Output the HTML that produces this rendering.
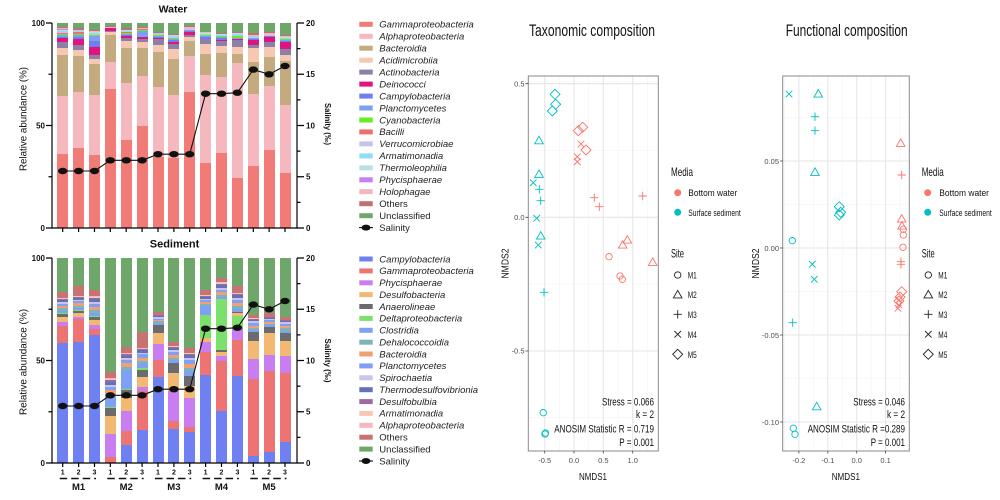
<!DOCTYPE html>
<html><head><meta charset="utf-8">
<style>
html,body{margin:0;padding:0;background:#fff;}
#root{position:relative;width:1000px;height:500px;overflow:hidden;background:#fff;font-family:"Liberation Sans",Arial,sans-serif;}
.bar{position:absolute;width:11px;height:205px;display:flex;flex-direction:column-reverse;}
.bar i{display:block;flex:none;}
.bar i.c17{flex:1 1 0;}
.wt{top:23px}.sd{top:258px}
.w .c1{background:#f07b77}.w .c2{background:#f4b8be}.w .c3{background:#c3ab7f}.w .c4{background:#f6c8b2}
.w .c5{background:#8d7fa6}.w .c6{background:#e0137f}.w .c7{background:#6f7ff0}.w .c8{background:#7ea0f4}
.w .c9{background:#66ee22}.w .c10{background:#ef6f6f}.w .c11{background:#cbc0e6}.w .c12{background:#8fdcf8}
.w .c13{background:#b8e0e4}.w .c14{background:#c77ef0}.w .c15{background:#f2b8c0}.w .c16{background:#c07070}
.s .c1{background:#6f80f2}.s .c2{background:#ee7373}.s .c3{background:#c87ef0}.s .c4{background:#f3b972}
.s .c5{background:#6b6b6b}.s .c6{background:#7ee06c}.s .c7{background:#7ea0f5}.s .c8{background:#7db4b8}
.s .c9{background:#f1a071}.s .c10{background:#80a0f6}.s .c11{background:#cbc3e8}.s .c12{background:#6470b8}
.s .c13{background:#9c6ba2}.s .c14{background:#f5c8b6}.s .c15{background:#f3b8c0}.s .c16{background:#c87272}
.c17{background:#6fa76a}
svg{position:absolute;left:0;top:0}
</style></head><body><div id="root">

<!-- Water bars -->
<div class="bar w wt" style="left:57.2px"><i class="c1" style="height:36%"></i><i class="c2" style="height:28.4%"></i><i class="c3" style="height:20%"></i><i class="c4" style="height:3.6%"></i><i class="c5" style="height:2.6%"></i><i class="c6" style="height:1.9%"></i><i class="c7" style="height:.8%"></i><i class="c8" style="height:1%"></i><i class="c9" style="height:.6%"></i><i class="c10" style="height:.3%"></i><i class="c11" style="height:.5%"></i><i class="c12" style="height:.6%"></i><i class="c13" style="height:.4%"></i><i class="c14" style="height:.3%"></i><i class="c15" style="height:.4%"></i><i class="c16" style="height:.6%"></i><i class="c17"></i></div>
<div class="bar w wt" style="left:73.1px"><i class="c1" style="height:39.2%"></i><i class="c2" style="height:27.1%"></i><i class="c3" style="height:17.7%"></i><i class="c4" style="height:3%"></i><i class="c5" style="height:2.3%"></i><i class="c6" style="height:2.9%"></i><i class="c7" style="height:1.2%"></i><i class="c8" style="height:.8%"></i><i class="c9" style="height:.4%"></i><i class="c10" style="height:1.2%"></i><i class="c11" style="height:.3%"></i><i class="c12" style="height:.3%"></i><i class="c16" style="height:1%"></i><i class="c17"></i></div>
<div class="bar w wt" style="left:89px"><i class="c1" style="height:35.4%"></i><i class="c2" style="height:29.5%"></i><i class="c3" style="height:15%"></i><i class="c4" style="height:2.5%"></i><i class="c5" style="height:2.2%"></i><i class="c6" style="height:3.9%"></i><i class="c7" style="height:2.5%"></i><i class="c8" style="height:2.5%"></i><i class="c9" style="height:.8%"></i><i class="c11" style="height:.3%"></i><i class="c12" style="height:.5%"></i><i class="c13" style="height:.5%"></i><i class="c15" style="height:.5%"></i><i class="c16" style="height:.7%"></i><i class="c17"></i></div>
<div class="bar w wt" style="left:104.8px"><i class="c1" style="height:67.8%"></i><i class="c2" style="height:13%"></i><i class="c3" style="height:13.5%"></i><i class="c4" style="height:1.2%"></i><i class="c5" style="height:.8%"></i><i class="c6" style="height:1.3%"></i><i class="c15" style="height:.3%"></i><i class="c16" style="height:.5%"></i><i class="c17"></i></div>
<div class="bar w wt" style="left:120.7px"><i class="c1" style="height:43.1%"></i><i class="c2" style="height:27.8%"></i><i class="c3" style="height:17.1%"></i><i class="c4" style="height:3.1%"></i><i class="c5" style="height:1.5%"></i><i class="c6" style="height:1.2%"></i><i class="c7" style="height:.5%"></i><i class="c8" style="height:.5%"></i><i class="c9" style="height:.5%"></i><i class="c10" style="height:.5%"></i><i class="c12" style="height:.5%"></i><i class="c13" style="height:.4%"></i><i class="c16" style="height:.8%"></i><i class="c17"></i></div>
<div class="bar w wt" style="left:136.6px"><i class="c1" style="height:49.6%"></i><i class="c2" style="height:24.7%"></i><i class="c3" style="height:13.4%"></i><i class="c4" style="height:2.9%"></i><i class="c5" style="height:1.6%"></i><i class="c6" style="height:.8%"></i><i class="c7" style="height:.3%"></i><i class="c8" style="height:3%"></i><i class="c9" style="height:.3%"></i><i class="c10" style="height:.5%"></i><i class="c15" style="height:.5%"></i><i class="c16" style="height:.5%"></i><i class="c17"></i></div>
<div class="bar w wt" style="left:152.5px"><i class="c1" style="height:34.5%"></i><i class="c2" style="height:34.5%"></i><i class="c3" style="height:17%"></i><i class="c4" style="height:3.3%"></i><i class="c5" style="height:3%"></i><i class="c6" style="height:.5%"></i><i class="c7" style="height:.3%"></i><i class="c8" style="height:.5%"></i><i class="c9" style="height:.6%"></i><i class="c11" style="height:.3%"></i><i class="c12" style="height:.5%"></i><i class="c13" style="height:.4%"></i><i class="c16" style="height:.3%"></i><i class="c17"></i></div>
<div class="bar w wt" style="left:168.4px"><i class="c1" style="height:34%"></i><i class="c2" style="height:30.7%"></i><i class="c3" style="height:17.9%"></i><i class="c4" style="height:4.5%"></i><i class="c5" style="height:2.7%"></i><i class="c6" style="height:1.2%"></i><i class="c7" style="height:.5%"></i><i class="c8" style="height:.6%"></i><i class="c9" style="height:.6%"></i><i class="c11" style="height:.3%"></i><i class="c12" style="height:.6%"></i><i class="c13" style="height:.5%"></i><i class="c15" style="height:.3%"></i><i class="c16" style="height:.5%"></i><i class="c17"></i></div>
<div class="bar w wt" style="left:184.2px"><i class="c1" style="height:66.3%"></i><i class="c2" style="height:17.7%"></i><i class="c3" style="height:7.3%"></i><i class="c4" style="height:2%"></i><i class="c5" style="height:.7%"></i><i class="c6" style="height:1.7%"></i><i class="c7" style="height:.5%"></i><i class="c8" style="height:.5%"></i><i class="c11" style="height:.5%"></i><i class="c15" style="height:.8%"></i><i class="c16" style="height:.6%"></i><i class="c17"></i></div>
<div class="bar w wt" style="left:200.1px"><i class="c1" style="height:31.5%"></i><i class="c2" style="height:43%"></i><i class="c3" style="height:10.5%"></i><i class="c4" style="height:4.7%"></i><i class="c5" style="height:2.3%"></i><i class="c6" style="height:.3%"></i><i class="c7" style="height:.7%"></i><i class="c8" style="height:.7%"></i><i class="c9" style="height:.5%"></i><i class="c12" style="height:.7%"></i><i class="c13" style="height:.3%"></i><i class="c15" style="height:.3%"></i><i class="c16" style="height:.3%"></i><i class="c17"></i></div>
<div class="bar w wt" style="left:216px"><i class="c1" style="height:36.6%"></i><i class="c2" style="height:37.1%"></i><i class="c3" style="height:11.6%"></i><i class="c4" style="height:3.4%"></i><i class="c5" style="height:2.4%"></i><i class="c6" style="height:.8%"></i><i class="c7" style="height:.6%"></i><i class="c8" style="height:.5%"></i><i class="c9" style="height:.5%"></i><i class="c12" style="height:.6%"></i><i class="c13" style="height:.5%"></i><i class="c16" style="height:.5%"></i><i class="c17"></i></div>
<div class="bar w wt" style="left:231.9px"><i class="c1" style="height:24.4%"></i><i class="c2" style="height:56.1%"></i><i class="c3" style="height:4.6%"></i><i class="c4" style="height:3.4%"></i><i class="c5" style="height:3.2%"></i><i class="c6" style="height:.3%"></i><i class="c7" style="height:.4%"></i><i class="c8" style="height:.5%"></i><i class="c9" style="height:1%"></i><i class="c12" style="height:.8%"></i><i class="c13" style="height:.5%"></i><i class="c16" style="height:.3%"></i><i class="c17"></i></div>
<div class="bar w wt" style="left:247.8px"><i class="c1" style="height:30.2%"></i><i class="c2" style="height:35.3%"></i><i class="c3" style="height:15.5%"></i><i class="c4" style="height:7%"></i><i class="c5" style="height:1.2%"></i><i class="c6" style="height:2.5%"></i><i class="c7" style="height:.5%"></i><i class="c8" style="height:.5%"></i><i class="c11" style="height:.5%"></i><i class="c12" style="height:.3%"></i><i class="c15" style="height:.8%"></i><i class="c16" style="height:.8%"></i><i class="c17"></i></div>
<div class="bar w wt" style="left:263.6px"><i class="c1" style="height:37.9%"></i><i class="c2" style="height:31.2%"></i><i class="c3" style="height:14.3%"></i><i class="c4" style="height:5%"></i><i class="c5" style="height:2.4%"></i><i class="c6" style="height:2.4%"></i><i class="c7" style="height:.3%"></i><i class="c8" style="height:.3%"></i><i class="c11" style="height:.3%"></i><i class="c15" style="height:.9%"></i><i class="c16" style="height:.6%"></i><i class="c17"></i></div>
<div class="bar w wt" style="left:279.5px"><i class="c1" style="height:27%"></i><i class="c2" style="height:32.9%"></i><i class="c3" style="height:21.6%"></i><i class="c4" style="height:3%"></i><i class="c5" style="height:3%"></i><i class="c6" style="height:3.1%"></i><i class="c7" style="height:.5%"></i><i class="c8" style="height:.5%"></i><i class="c9" style="height:.6%"></i><i class="c12" style="height:.5%"></i><i class="c13" style="height:.4%"></i><i class="c15" style="height:.5%"></i><i class="c16" style="height:.6%"></i><i class="c17"></i></div>

<!-- Sediment bars -->
<div class="bar s sd" style="left:57.2px"><i class="c1" style="height:58.5%"></i><i class="c2" style="height:8.2%"></i><i class="c3" style="height:2.1%"></i><i class="c4" style="height:2.2%"></i><i class="c5" style="height:1.8%"></i><i class="c6" style="height:.4%"></i><i class="c7" style="height:1.2%"></i><i class="c8" style="height:1%"></i><i class="c9" style="height:1.3%"></i><i class="c10" style="height:1%"></i><i class="c11" style="height:.8%"></i><i class="c12" style="height:1%"></i><i class="c13" style="height:.5%"></i><i class="c14" style="height:.3%"></i><i class="c15" style="height:.2%"></i><i class="c16" style="height:3.2%"></i><i class="c17"></i></div>
<div class="bar s sd" style="left:73.1px"><i class="c1" style="height:59%"></i><i class="c2" style="height:11.2%"></i><i class="c3" style="height:.8%"></i><i class="c4" style="height:2.2%"></i><i class="c5" style="height:1.1%"></i><i class="c6" style="height:.3%"></i><i class="c7" style="height:1.1%"></i><i class="c8" style="height:1%"></i><i class="c9" style="height:1.2%"></i><i class="c10" style="height:1%"></i><i class="c11" style="height:.7%"></i><i class="c12" style="height:.9%"></i><i class="c13" style="height:.4%"></i><i class="c14" style="height:.4%"></i><i class="c16" style="height:5.2%"></i><i class="c17"></i></div>
<div class="bar s sd" style="left:89px"><i class="c1" style="height:62.3%"></i><i class="c2" style="height:3.1%"></i><i class="c3" style="height:1.8%"></i><i class="c4" style="height:2.7%"></i><i class="c5" style="height:1.3%"></i><i class="c6" style="height:.5%"></i><i class="c7" style="height:1.6%"></i><i class="c8" style="height:1.3%"></i><i class="c9" style="height:1.7%"></i><i class="c10" style="height:1.3%"></i><i class="c11" style="height:1%"></i><i class="c12" style="height:1.4%"></i><i class="c13" style="height:.7%"></i><i class="c14" style="height:.4%"></i><i class="c15" style="height:.2%"></i><i class="c16" style="height:3.3%"></i><i class="c17"></i></div>
<div class="bar s sd" style="left:104.8px"><i class="c2" style="height:2.8%"></i><i class="c3" style="height:11.3%"></i><i class="c4" style="height:8.7%"></i><i class="c5" style="height:4%"></i><i class="c6" style="height:.5%"></i><i class="c7" style="height:4.9%"></i><i class="c8" style="height:1.5%"></i><i class="c9" style="height:1.8%"></i><i class="c10" style="height:1.5%"></i><i class="c11" style="height:1.2%"></i><i class="c12" style="height:1.5%"></i><i class="c13" style="height:.8%"></i><i class="c14" style="height:.6%"></i><i class="c15" style="height:.4%"></i><i class="c16" style="height:3.2%"></i><i class="c17"></i></div>
<div class="bar s sd" style="left:120.7px"><i class="c1" style="height:8.6%"></i><i class="c2" style="height:7.2%"></i><i class="c3" style="height:9.7%"></i><i class="c4" style="height:6.2%"></i><i class="c5" style="height:4.1%"></i><i class="c6" style="height:.5%"></i><i class="c7" style="height:9.2%"></i><i class="c8" style="height:1.6%"></i><i class="c9" style="height:1.6%"></i><i class="c10" style="height:1.4%"></i><i class="c11" style="height:1%"></i><i class="c12" style="height:1.3%"></i><i class="c13" style="height:.6%"></i><i class="c14" style="height:.4%"></i><i class="c15" style="height:.3%"></i><i class="c16" style="height:3.2%"></i><i class="c17"></i></div>
<div class="bar s sd" style="left:136.6px"><i class="c1" style="height:16.3%"></i><i class="c2" style="height:19%"></i><i class="c3" style="height:1.6%"></i><i class="c4" style="height:4.9%"></i><i class="c5" style="height:3.7%"></i><i class="c6" style="height:.8%"></i><i class="c7" style="height:2.5%"></i><i class="c8" style="height:1.2%"></i><i class="c9" style="height:1.5%"></i><i class="c10" style="height:1.5%"></i><i class="c11" style="height:.9%"></i><i class="c12" style="height:1.2%"></i><i class="c13" style="height:.5%"></i><i class="c14" style="height:.3%"></i><i class="c15" style="height:.2%"></i><i class="c16" style="height:7.8%"></i><i class="c17"></i></div>
<div class="bar s sd" style="left:152.5px"><i class="c1" style="height:41.8%"></i><i class="c2" style="height:8.4%"></i><i class="c3" style="height:7.8%"></i><i class="c4" style="height:5.4%"></i><i class="c5" style="height:4.1%"></i><i class="c7" style="height:.8%"></i><i class="c8" style="height:.8%"></i><i class="c9" style="height:.8%"></i><i class="c10" style="height:.6%"></i><i class="c11" style="height:.6%"></i><i class="c12" style="height:.6%"></i><i class="c13" style="height:.4%"></i><i class="c14" style="height:.3%"></i><i class="c16" style="height:1.3%"></i><i class="c17"></i></div>
<div class="bar s sd" style="left:168.4px"><i class="c1" style="height:16.7%"></i><i class="c2" style="height:4%"></i><i class="c3" style="height:14.3%"></i><i class="c4" style="height:8.9%"></i><i class="c5" style="height:4.9%"></i><i class="c7" style="height:1.3%"></i><i class="c8" style="height:1.3%"></i><i class="c9" style="height:1.4%"></i><i class="c10" style="height:1.2%"></i><i class="c11" style="height:1%"></i><i class="c12" style="height:1%"></i><i class="c13" style="height:.5%"></i><i class="c14" style="height:.4%"></i><i class="c16" style="height:2.4%"></i><i class="c17"></i></div>
<div class="bar s sd" style="left:184.2px"><i class="c1" style="height:15.1%"></i><i class="c2" style="height:2.3%"></i><i class="c3" style="height:14.3%"></i><i class="c4" style="height:5.7%"></i><i class="c5" style="height:4.9%"></i><i class="c7" style="height:2.5%"></i><i class="c8" style="height:1.8%"></i><i class="c9" style="height:1.8%"></i><i class="c10" style="height:1.8%"></i><i class="c11" style="height:1.2%"></i><i class="c12" style="height:1.2%"></i><i class="c13" style="height:.6%"></i><i class="c14" style="height:.5%"></i><i class="c16" style="height:2.4%"></i><i class="c17"></i></div>
<div class="bar s sd" style="left:200.1px"><i class="c1" style="height:42.8%"></i><i class="c2" style="height:11.3%"></i><i class="c3" style="height:4.9%"></i><i class="c4" style="height:2%"></i><i class="c6" style="height:11.4%"></i><i class="c7" style="height:4%"></i><i class="c8" style="height:1%"></i><i class="c9" style="height:1.2%"></i><i class="c10" style="height:.8%"></i><i class="c11" style="height:.8%"></i><i class="c12" style="height:.8%"></i><i class="c13" style="height:.5%"></i><i class="c14" style="height:.4%"></i><i class="c15" style="height:.2%"></i><i class="c16" style="height:2.5%"></i><i class="c17"></i></div>
<div class="bar s sd" style="left:216px"><i class="c1" style="height:25.5%"></i><i class="c2" style="height:24.1%"></i><i class="c3" style="height:2.4%"></i><i class="c4" style="height:2.1%"></i><i class="c5" style="height:1.2%"></i><i class="c6" style="height:24.9%"></i><i class="c7" style="height:1%"></i><i class="c8" style="height:1%"></i><i class="c9" style="height:1.2%"></i><i class="c10" style="height:1%"></i><i class="c11" style="height:1%"></i><i class="c12" style="height:1.5%"></i><i class="c13" style="height:.7%"></i><i class="c14" style="height:.5%"></i><i class="c15" style="height:.5%"></i><i class="c16" style="height:1.6%"></i><i class="c17"></i></div>
<div class="bar s sd" style="left:231.9px"><i class="c1" style="height:42.3%"></i><i class="c2" style="height:17.9%"></i><i class="c3" style="height:5.7%"></i><i class="c6" style="height:5.6%"></i><i class="c4" style="height:1.5%"></i><i class="c5" style="height:.8%"></i><i class="c7" style="height:1.5%"></i><i class="c8" style="height:1.2%"></i><i class="c9" style="height:1.8%"></i><i class="c10" style="height:1.2%"></i><i class="c11" style="height:1%"></i><i class="c12" style="height:1.5%"></i><i class="c13" style="height:.6%"></i><i class="c15" style="height:.3%"></i><i class="c16" style="height:3.3%"></i><i class="c17"></i></div>
<div class="bar s sd" style="left:247.8px"><i class="c1" style="height:3.3%"></i><i class="c2" style="height:37.7%"></i><i class="c3" style="height:9.7%"></i><i class="c4" style="height:8.6%"></i><i class="c5" style="height:4.4%"></i><i class="c7" style="height:1.2%"></i><i class="c8" style="height:1.2%"></i><i class="c9" style="height:1%"></i><i class="c10" style="height:1.2%"></i><i class="c11" style="height:.8%"></i><i class="c12" style="height:.8%"></i><i class="c13" style="height:.4%"></i><i class="c14" style="height:.4%"></i><i class="c16" style="height:1.7%"></i><i class="c17"></i></div>
<div class="bar s sd" style="left:263.6px"><i class="c1" style="height:5.4%"></i><i class="c2" style="height:39.3%"></i><i class="c3" style="height:8.1%"></i><i class="c4" style="height:10.6%"></i><i class="c5" style="height:2.8%"></i><i class="c7" style="height:.9%"></i><i class="c8" style="height:.9%"></i><i class="c9" style="height:.8%"></i><i class="c10" style="height:.9%"></i><i class="c11" style="height:.6%"></i><i class="c12" style="height:.6%"></i><i class="c13" style="height:.3%"></i><i class="c14" style="height:.3%"></i><i class="c16" style="height:1.7%"></i><i class="c17"></i></div>
<div class="bar s sd" style="left:279.5px"><i class="c1" style="height:10.1%"></i><i class="c2" style="height:33.8%"></i><i class="c3" style="height:8.1%"></i><i class="c4" style="height:7.7%"></i><i class="c5" style="height:3.7%"></i><i class="c7" style="height:1.2%"></i><i class="c8" style="height:1.2%"></i><i class="c9" style="height:1%"></i><i class="c10" style="height:1%"></i><i class="c11" style="height:.8%"></i><i class="c12" style="height:.6%"></i><i class="c13" style="height:.4%"></i><i class="c14" style="height:.3%"></i><i class="c16" style="height:1.6%"></i><i class="c17"></i></div>

<svg width="1000" height="500" viewBox="0 0 1000 500" font-family="Liberation Sans, Arial, sans-serif">
<defs>
<path id="tri" d="M0,-4.4L4.3,3.1L-4.3,3.1Z"/>
<path id="pl" d="M-4.2,0H4.2M0,-4.2V4.2"/>
<path id="xx" d="M-3.3,-3.3L3.3,3.3M-3.3,3.3L3.3,-3.3"/>
<path id="dm" d="M0,-5L5,0L0,5L-5,0Z"/>
<circle id="ci" r="3.2"/>
</defs>

<!-- ===== LEFT: Water ===== -->
<text x="173" y="12.5" font-size="10.5" font-weight="bold" text-anchor="middle" fill="#111">Water</text>
<g stroke="#000" stroke-width="1.2" fill="none">
<path d="M52,23V228H297V23"/>
<path d="M46,23H52M46,125.5H52M46,228H52M48.5,74.25H52M48.5,176.75H52"/>
<path d="M297,23H304M297,74.25H304M297,125.5H304M297,176.75H304M297,228H304M297,48.6H300.5M297,99.9H300.5M297,151.1H300.5M297,202.4H300.5"/>
<path d="M62.7,228V232M78.6,228V232M94.5,228V232M110.3,228V232M126.2,228V232M142.1,228V232M158,228V232M173.9,228V232M189.7,228V232M205.6,228V232M221.5,228V232M237.4,228V232M253.3,228V232M269.1,228V232M285,228V232"/>
</g>
<g font-size="8" font-weight="bold" fill="#111">
<text x="45" y="26" text-anchor="end">100</text>
<text x="45" y="128.5" text-anchor="end">50</text>
<text x="45" y="231" text-anchor="end">0</text>
<text x="306" y="26">20</text>
<text x="306" y="77.2">15</text>
<text x="306" y="128.5">10</text>
<text x="306" y="179.7">5</text>
<text x="306" y="231">0</text>
</g>
<text transform="translate(26.5,119) rotate(-90)" x="-52" y="0" font-size="9.75" textLength="104" lengthAdjust="spacingAndGlyphs" fill="#111">Relative abundance (%)</text>
<text transform="translate(325,124) rotate(90)" x="-21" y="0" font-size="8.5" font-weight="bold" textLength="42" lengthAdjust="spacingAndGlyphs" fill="#111">Salinity (‰)</text>
<polyline fill="none" stroke="#111" stroke-width="1.1" points="62.7,171 78.6,171 94.5,171 110.3,160.3 126.2,160.3 142.1,160.3 158,154.2 173.9,154.2 189.7,154.2 205.6,93.7 221.5,93.7 237.4,92.7 253.3,69.6 269.1,74.3 285,66"/>
<g fill="#111">
<ellipse cx="62.7" cy="171" rx="4.7" ry="3.2"/><ellipse cx="78.6" cy="171" rx="4.7" ry="3.2"/><ellipse cx="94.5" cy="171" rx="4.7" ry="3.2"/>
<ellipse cx="110.3" cy="160.3" rx="4.7" ry="3.2"/><ellipse cx="126.2" cy="160.3" rx="4.7" ry="3.2"/><ellipse cx="142.1" cy="160.3" rx="4.7" ry="3.2"/>
<ellipse cx="158" cy="154.2" rx="4.7" ry="3.2"/><ellipse cx="173.9" cy="154.2" rx="4.7" ry="3.2"/><ellipse cx="189.7" cy="154.2" rx="4.7" ry="3.2"/>
<ellipse cx="205.6" cy="93.7" rx="4.7" ry="3.2"/><ellipse cx="221.5" cy="93.7" rx="4.7" ry="3.2"/><ellipse cx="237.4" cy="92.7" rx="4.7" ry="3.2"/>
<ellipse cx="253.3" cy="69.6" rx="4.7" ry="3.2"/><ellipse cx="269.1" cy="74.3" rx="4.7" ry="3.2"/><ellipse cx="285" cy="66" rx="4.7" ry="3.2"/>
</g>

<!-- Water legend -->
<g>
<rect x="359.3" y="21.8" width="13.4" height="5" fill="#f07b77"/>
<rect x="359.3" y="33.8" width="13.4" height="5" fill="#f4b8be"/>
<rect x="359.3" y="45.7" width="13.4" height="5" fill="#c3ab7f"/>
<rect x="359.3" y="57.7" width="13.4" height="5" fill="#f6c8b2"/>
<rect x="359.3" y="69.6" width="13.4" height="5" fill="#8d7fa6"/>
<rect x="359.3" y="81.6" width="13.4" height="5" fill="#e0137f"/>
<rect x="359.3" y="93.6" width="13.4" height="5" fill="#6f7ff0"/>
<rect x="359.3" y="105.5" width="13.4" height="5" fill="#7ea0f4"/>
<rect x="359.3" y="117.5" width="13.4" height="5" fill="#66ee22"/>
<rect x="359.3" y="129.4" width="13.4" height="5" fill="#ef6f6f"/>
<rect x="359.3" y="141.4" width="13.4" height="5" fill="#cbc0e6"/>
<rect x="359.3" y="153.4" width="13.4" height="5" fill="#8fdcf8"/>
<rect x="359.3" y="165.3" width="13.4" height="5" fill="#b8e0e4"/>
<rect x="359.3" y="177.3" width="13.4" height="5" fill="#c77ef0"/>
<rect x="359.3" y="189.2" width="13.4" height="5" fill="#f2b8c0"/>
<rect x="359.3" y="201.2" width="13.4" height="5" fill="#c07070"/>
<rect x="359.3" y="213.2" width="13.4" height="5" fill="#6fa76a"/>
<line x1="359" y1="227.6" x2="373" y2="227.6" stroke="#111" stroke-width="1.1"/>
<ellipse cx="366" cy="227.6" rx="4.5" ry="3" fill="#111"/>
</g>
<g font-size="9.5" fill="#222" font-style="italic">
<text x="379.3" y="27.6">Gammaproteobacteria</text>
<text x="379.3" y="39.6">Alphaproteobacteria</text>
<text x="379.3" y="51.5">Bacteroidia</text>
<text x="379.3" y="63.5">Acidimicrobiia</text>
<text x="379.3" y="75.4">Actinobacteria</text>
<text x="379.3" y="87.4">Deinococci</text>
<text x="379.3" y="99.4">Campylobacteria</text>
<text x="379.3" y="111.3">Planctomycetes</text>
<text x="379.3" y="123.3">Cyanobacteria</text>
<text x="379.3" y="135.2">Bacilli</text>
<text x="379.3" y="147.2">Verrucomicrobiae</text>
<text x="379.3" y="159.2">Armatimonadia</text>
<text x="379.3" y="171.1">Thermoleophilia</text>
<text x="379.3" y="183.1">Phycisphaerae</text>
<text x="379.3" y="195">Holophagae</text>
<text x="379.3" y="207" font-style="normal">Others</text>
<text x="379.3" y="219" font-style="normal">Unclassified</text>
<text x="379.3" y="230.9" font-style="normal">Salinity</text>
</g>

<!-- ===== LEFT: Sediment ===== -->
<text x="174.5" y="247.5" font-size="11" font-weight="bold" text-anchor="middle" fill="#111">Sediment</text>
<g stroke="#000" stroke-width="1.2" fill="none">
<path d="M52,258V463H297V258"/>
<path d="M46,258H52M46,360.5H52M46,463H52M48.5,309.25H52M48.5,411.75H52"/>
<path d="M297,258H304M297,309.25H304M297,360.5H304M297,411.75H304M297,463H304M297,283.6H300.5M297,334.9H300.5M297,386.1H300.5M297,437.4H300.5"/>
<path d="M62.7,463V467M78.6,463V467M94.5,463V467M110.3,463V467M126.2,463V467M142.1,463V467M158,463V467M173.9,463V467M189.7,463V467M205.6,463V467M221.5,463V467M237.4,463V467M253.3,463V467M269.1,463V467M285,463V467"/>
</g>
<g font-size="8" font-weight="bold" fill="#111">
<text x="45" y="261" text-anchor="end">100</text>
<text x="45" y="363.5" text-anchor="end">50</text>
<text x="45" y="466" text-anchor="end">0</text>
<text x="306" y="261">20</text>
<text x="306" y="312.2">15</text>
<text x="306" y="363.5">10</text>
<text x="306" y="414.7">5</text>
<text x="306" y="466">0</text>
</g>
<text transform="translate(26.5,362) rotate(-90)" x="-53" y="0" font-size="9.75" textLength="106" lengthAdjust="spacingAndGlyphs" fill="#111">Relative abundance (%)</text>
<text transform="translate(325,360.5) rotate(90)" x="-22" y="0" font-size="8.5" font-weight="bold" textLength="44" lengthAdjust="spacingAndGlyphs" fill="#111">Salinity (‰)</text>
<g font-size="7" font-weight="bold" fill="#111" text-anchor="middle">
<text x="62.7" y="474.5">1</text><text x="78.6" y="474.5">2</text><text x="94.5" y="474.5">3</text>
<text x="110.3" y="474.5">1</text><text x="126.2" y="474.5">2</text><text x="142.1" y="474.5">3</text>
<text x="158" y="474.5">1</text><text x="173.9" y="474.5">2</text><text x="189.7" y="474.5">3</text>
<text x="205.6" y="474.5">1</text><text x="221.5" y="474.5">2</text><text x="237.4" y="474.5">3</text>
<text x="253.3" y="474.5">1</text><text x="269.1" y="474.5">2</text><text x="285" y="474.5">3</text>
</g>
<g stroke="#111" stroke-width="1.4" stroke-dasharray="7.5,4">
<line x1="59.7" y1="478.5" x2="96" y2="478.5"/>
<line x1="107.3" y1="478.5" x2="143.6" y2="478.5"/>
<line x1="155" y1="478.5" x2="191.2" y2="478.5"/>
<line x1="202.6" y1="478.5" x2="238.9" y2="478.5"/>
<line x1="250.3" y1="478.5" x2="286.5" y2="478.5"/>
</g>
<g font-size="9.5" font-weight="bold" fill="#111" text-anchor="middle">
<text x="78.6" y="490">M1</text><text x="126.2" y="490">M2</text><text x="173.9" y="490">M3</text><text x="221.5" y="490">M4</text><text x="269.1" y="490">M5</text>
</g>
<polyline fill="none" stroke="#111" stroke-width="1.1" points="62.7,406 78.6,406 94.5,406 110.3,395.3 126.2,395.3 142.1,395.3 158,389.2 173.9,389.2 189.7,389.2 205.6,328.7 221.5,328.7 237.4,327.7 253.3,304.6 269.1,309.3 285,301"/>
<g fill="#111">
<ellipse cx="62.7" cy="406" rx="4.7" ry="3.2"/><ellipse cx="78.6" cy="406" rx="4.7" ry="3.2"/><ellipse cx="94.5" cy="406" rx="4.7" ry="3.2"/>
<ellipse cx="110.3" cy="395.3" rx="4.7" ry="3.2"/><ellipse cx="126.2" cy="395.3" rx="4.7" ry="3.2"/><ellipse cx="142.1" cy="395.3" rx="4.7" ry="3.2"/>
<ellipse cx="158" cy="389.2" rx="4.7" ry="3.2"/><ellipse cx="173.9" cy="389.2" rx="4.7" ry="3.2"/><ellipse cx="189.7" cy="389.2" rx="4.7" ry="3.2"/>
<ellipse cx="205.6" cy="328.7" rx="4.7" ry="3.2"/><ellipse cx="221.5" cy="328.7" rx="4.7" ry="3.2"/><ellipse cx="237.4" cy="327.7" rx="4.7" ry="3.2"/>
<ellipse cx="253.3" cy="304.6" rx="4.7" ry="3.2"/><ellipse cx="269.1" cy="309.3" rx="4.7" ry="3.2"/><ellipse cx="285" cy="301" rx="4.7" ry="3.2"/>
</g>

<!-- Sediment legend -->
<g>
<rect x="359.3" y="256.5" width="13.4" height="5" fill="#6f80f2"/>
<rect x="359.3" y="268.4" width="13.4" height="5" fill="#ee7373"/>
<rect x="359.3" y="280.3" width="13.4" height="5" fill="#c87ef0"/>
<rect x="359.3" y="292.1" width="13.4" height="5" fill="#f3b972"/>
<rect x="359.3" y="304" width="13.4" height="5" fill="#6b6b6b"/>
<rect x="359.3" y="315.9" width="13.4" height="5" fill="#7ee06c"/>
<rect x="359.3" y="327.8" width="13.4" height="5" fill="#7ea0f5"/>
<rect x="359.3" y="339.7" width="13.4" height="5" fill="#7db4b8"/>
<rect x="359.3" y="351.5" width="13.4" height="5" fill="#f1a071"/>
<rect x="359.3" y="363.4" width="13.4" height="5" fill="#80a0f6"/>
<rect x="359.3" y="375.3" width="13.4" height="5" fill="#cbc3e8"/>
<rect x="359.3" y="387.2" width="13.4" height="5" fill="#6470b8"/>
<rect x="359.3" y="399.1" width="13.4" height="5" fill="#9c6ba2"/>
<rect x="359.3" y="410.9" width="13.4" height="5" fill="#f5c8b6"/>
<rect x="359.3" y="422.8" width="13.4" height="5" fill="#f3b8c0"/>
<rect x="359.3" y="434.7" width="13.4" height="5" fill="#c87272"/>
<rect x="359.3" y="446.6" width="13.4" height="5" fill="#6fa76a"/>
<line x1="359" y1="461" x2="373" y2="461" stroke="#111" stroke-width="1.1"/>
<ellipse cx="366" cy="461" rx="4.5" ry="3" fill="#111"/>
</g>
<g font-size="9.5" fill="#222" font-style="italic">
<text x="379.3" y="262.3">Campylobacteria</text>
<text x="379.3" y="274.2">Gammaproteobacteria</text>
<text x="379.3" y="286.1">Phycisphaerae</text>
<text x="379.3" y="297.9">Desulfobacteria</text>
<text x="379.3" y="309.8">Anaerolineae</text>
<text x="379.3" y="321.7">Deltaproteobacteria</text>
<text x="379.3" y="333.6">Clostridia</text>
<text x="379.3" y="345.5">Dehalococcoidia</text>
<text x="379.3" y="357.3">Bacteroidia</text>
<text x="379.3" y="369.2">Planctomycetes</text>
<text x="379.3" y="381.1">Spirochaetia</text>
<text x="379.3" y="393">Thermodesulfovibrionia</text>
<text x="379.3" y="404.9">Desulfobulbia</text>
<text x="379.3" y="416.7">Armatimonadia</text>
<text x="379.3" y="428.6">Alphaproteobacteria</text>
<text x="379.3" y="440.5" font-style="normal">Others</text>
<text x="379.3" y="452.4" font-style="normal">Unclassified</text>
<text x="379.3" y="464.3" font-style="normal">Salinity</text>
</g>

<!-- ===== Taxonomic composition ===== -->
<text x="529" y="36" font-size="16.5" textLength="126" lengthAdjust="spacingAndGlyphs" fill="#111">Taxonomic composition</text>
<rect x="528.3" y="76" width="130" height="375" fill="#fff"/>
<g stroke="#f3f3f3" stroke-width="0.6">
<path d="M530,76V451M559.3,76V451M588.7,76V451M618,76V451M647.3,76V451M528.3,150.5H658.3M528.3,284H658.3M528.3,417.7H658.3"/>
</g>
<g stroke="#e6e6e6" stroke-width="1.1">
<path d="M544.7,76V451M574,76V451M603.3,76V451M632.7,76V451M528.3,83.7H658.3M528.3,217.3H658.3M528.3,351H658.3"/>
</g>
<rect x="528.3" y="76" width="130" height="375" fill="none" stroke="#8a8a8a" stroke-width="1"/>
<g stroke="#444" stroke-width="0.8">
<path d="M544.7,451V453.5M574,451V453.5M603.3,451V453.5M632.7,451V453.5M525.5,83.7H528.3M525.5,217.3H528.3M525.5,351H528.3"/>
</g>
<g font-size="7.5" fill="#4d4d4d">
<text x="524.5" y="86.5" text-anchor="end">0.5</text>
<text x="524.5" y="220" text-anchor="end">0.0</text>
<text x="524.5" y="353.7" text-anchor="end">-0.5</text>
<text x="544.7" y="463" text-anchor="middle">-0.5</text>
<text x="574" y="463" text-anchor="middle">0.0</text>
<text x="603.3" y="463" text-anchor="middle">0.5</text>
<text x="632.7" y="463" text-anchor="middle">1.0</text>
</g>
<text x="579" y="480" font-size="10" textLength="28" lengthAdjust="spacingAndGlyphs" fill="#111">NMDS1</text>
<text transform="translate(508.5,263.5) rotate(-90)" x="-15" y="0" font-size="10" textLength="30" lengthAdjust="spacingAndGlyphs" fill="#111">NMDS2</text>
<g fill="none" stroke="#00BFC4" stroke-width="0.9">
<use href="#dm" x="555" y="94.3"/><use href="#dm" x="555.7" y="104.3"/><use href="#dm" x="552.3" y="111"/>
<use href="#tri" x="539" y="140.7"/><use href="#tri" x="539" y="174.3"/><use href="#tri" x="540.7" y="236"/>
<use href="#xx" x="533.3" y="182.7"/><use href="#xx" x="536.7" y="218.3"/><use href="#xx" x="538.3" y="245"/>
<use href="#pl" x="539.3" y="189.3"/><use href="#pl" x="540.7" y="200.7"/><use href="#pl" x="544" y="292.3"/>
<use href="#ci" x="543.3" y="412.7"/><use href="#ci" x="545" y="434"/><use href="#ci" x="545.5" y="433"/>
</g>
<g fill="none" stroke="#F8766D" stroke-width="0.9">
<use href="#dm" x="578.3" y="130.7"/><use href="#dm" x="582.7" y="127.3"/><use href="#dm" x="586" y="150"/>
<use href="#xx" x="581" y="144"/><use href="#xx" x="577.3" y="156.7"/><use href="#xx" x="577.3" y="161.7"/>
<use href="#pl" x="594.3" y="197.7"/><use href="#pl" x="599.3" y="206.7"/><use href="#pl" x="642.7" y="196"/>
<use href="#tri" x="627.3" y="240"/><use href="#tri" x="622.7" y="245"/><use href="#tri" x="652.7" y="262.3"/>
<use href="#ci" x="609" y="256.7"/><use href="#ci" x="620" y="276"/><use href="#ci" x="622.3" y="279.3"/>
</g>
<g font-size="11" fill="#111">
<text x="602" y="405.5" textLength="52" lengthAdjust="spacingAndGlyphs">Stress = 0.066</text>
<text x="636" y="418" textLength="18" lengthAdjust="spacingAndGlyphs">k = 2</text>
<text x="554.3" y="432.5" textLength="99.7" lengthAdjust="spacingAndGlyphs">ANOSIM Statistic R = 0.719</text>
<text x="619.3" y="446" textLength="34.7" lengthAdjust="spacingAndGlyphs">P = 0.001</text>
</g>
<!-- legend -->
<text x="671" y="176" font-size="12" textLength="22" lengthAdjust="spacingAndGlyphs" fill="#111">Media</text>
<circle cx="677.7" cy="192.7" r="3.5" fill="#F8766D"/>
<circle cx="677.7" cy="212.3" r="3.5" fill="#00BFC4"/>
<text x="688.3" y="196" font-size="9.5" textLength="49" lengthAdjust="spacingAndGlyphs" fill="#111">Bottom water</text>
<text x="688.3" y="215.8" font-size="9.5" textLength="52.4" lengthAdjust="spacingAndGlyphs" fill="#111">Surface sediment</text>
<text x="671" y="257.5" font-size="12" textLength="13" lengthAdjust="spacingAndGlyphs" fill="#111">Site</text>
<g fill="none" stroke="#222" stroke-width="0.9">
<use href="#ci" x="677.7" y="275"/><use href="#tri" x="677.7" y="294.8"/><use href="#pl" x="677.7" y="314.3"/><use href="#xx" x="677.7" y="334.3"/><use href="#dm" x="677.7" y="354.3"/>
</g>
<g font-size="9" fill="#111">
<text x="687.7" y="278.5" textLength="9" lengthAdjust="spacingAndGlyphs">M1</text>
<text x="687.7" y="297.8" textLength="9" lengthAdjust="spacingAndGlyphs">M2</text>
<text x="687.7" y="317.8" textLength="9" lengthAdjust="spacingAndGlyphs">M3</text>
<text x="687.7" y="337.8" textLength="9" lengthAdjust="spacingAndGlyphs">M4</text>
<text x="687.7" y="357.8" textLength="9" lengthAdjust="spacingAndGlyphs">M5</text>
</g>

<!-- ===== Functional composition ===== -->
<text x="785.7" y="36" font-size="16.5" textLength="122" lengthAdjust="spacingAndGlyphs" fill="#111">Functional composition</text>
<rect x="782.7" y="76" width="126.6" height="375" fill="#fff"/>
<g stroke="#f3f3f3" stroke-width="0.6">
<path d="M784.4,76V451M813.3,76V451M842.2,76V451M871.2,76V451M900,76V451M782.7,117.5H909.3M782.7,204.5H909.3M782.7,291.5H909.3M782.7,378.5H909.3"/>
</g>
<g stroke="#e6e6e6" stroke-width="1.1">
<path d="M798.9,76V451M827.8,76V451M856.7,76V451M885.6,76V451M782.7,161H909.3M782.7,248H909.3M782.7,335H909.3M782.7,422H909.3"/>
</g>
<rect x="782.7" y="76" width="126.6" height="375" fill="none" stroke="#8a8a8a" stroke-width="1"/>
<g stroke="#444" stroke-width="0.8">
<path d="M798.9,451V453.5M827.8,451V453.5M856.7,451V453.5M885.6,451V453.5M779.9,161H782.7M779.9,248H782.7M779.9,335H782.7M779.9,422H782.7"/>
</g>
<g font-size="7.5" fill="#4d4d4d">
<text x="779" y="163.8" text-anchor="end">0.05</text>
<text x="779" y="250.8" text-anchor="end">0.00</text>
<text x="779" y="337.8" text-anchor="end">-0.05</text>
<text x="779" y="424.8" text-anchor="end">-0.10</text>
<text x="798.9" y="463" text-anchor="middle">-0.2</text>
<text x="827.8" y="463" text-anchor="middle">-0.1</text>
<text x="856.7" y="463" text-anchor="middle">0.0</text>
<text x="885.6" y="463" text-anchor="middle">0.1</text>
</g>
<text x="831.7" y="480" font-size="10" textLength="28.3" lengthAdjust="spacingAndGlyphs" fill="#111">NMDS1</text>
<text transform="translate(759,263.5) rotate(-90)" x="-15" y="0" font-size="10" textLength="30" lengthAdjust="spacingAndGlyphs" fill="#111">NMDS2</text>
<g fill="none" stroke="#00BFC4" stroke-width="0.9">
<use href="#xx" x="789" y="94"/><use href="#xx" x="812.3" y="264.3"/><use href="#xx" x="814.3" y="279.3"/>
<use href="#tri" x="818.3" y="94"/><use href="#tri" x="815" y="172.3"/><use href="#tri" x="816.7" y="406.7"/>
<use href="#pl" x="815" y="116.7"/><use href="#pl" x="815" y="130.7"/><use href="#pl" x="792.7" y="322.7"/>
<use href="#dm" x="839.3" y="206.7"/><use href="#dm" x="840.7" y="212.3"/><use href="#dm" x="839.3" y="215"/>
<use href="#ci" x="792.3" y="240.7"/><use href="#ci" x="793.3" y="428.3"/><use href="#ci" x="795" y="434.3"/>
</g>
<g fill="none" stroke="#F8766D" stroke-width="0.9">
<use href="#tri" x="900.7" y="143.3"/><use href="#tri" x="901.7" y="219"/><use href="#tri" x="902" y="226"/>
<use href="#pl" x="901.7" y="175"/><use href="#pl" x="901" y="261.7"/><use href="#pl" x="901" y="264.3"/>
<use href="#ci" x="903.3" y="229.3"/><use href="#ci" x="903.3" y="235"/><use href="#ci" x="903" y="247.3"/>
<use href="#dm" x="901.7" y="291.7"/><use href="#dm" x="900" y="297"/><use href="#dm" x="899" y="301"/>
<use href="#xx" x="899" y="305"/><use href="#xx" x="898" y="308.3"/><use href="#xx" x="899" y="300"/>
</g>
<g font-size="11" fill="#111">
<text x="853.3" y="405.5" textLength="51.7" lengthAdjust="spacingAndGlyphs">Stress = 0.046</text>
<text x="887" y="418" textLength="18" lengthAdjust="spacingAndGlyphs">k = 2</text>
<text x="807.7" y="432.5" textLength="97.3" lengthAdjust="spacingAndGlyphs">ANOSIM Statistic R =0.289</text>
<text x="870.7" y="446" textLength="34.3" lengthAdjust="spacingAndGlyphs">P = 0.001</text>
</g>
<text x="921.7" y="176" font-size="12" textLength="22" lengthAdjust="spacingAndGlyphs" fill="#111">Media</text>
<circle cx="927.7" cy="192.7" r="3.5" fill="#F8766D"/>
<circle cx="927.7" cy="212.3" r="3.5" fill="#00BFC4"/>
<text x="939.3" y="196" font-size="9.5" textLength="49.7" lengthAdjust="spacingAndGlyphs" fill="#111">Bottom water</text>
<text x="939.3" y="215.8" font-size="9.5" textLength="52.4" lengthAdjust="spacingAndGlyphs" fill="#111">Surface sediment</text>
<text x="921.7" y="257.5" font-size="12" textLength="13" lengthAdjust="spacingAndGlyphs" fill="#111">Site</text>
<g fill="none" stroke="#222" stroke-width="0.9">
<use href="#ci" x="928.3" y="275"/><use href="#tri" x="928.3" y="294.8"/><use href="#pl" x="928.3" y="314.3"/><use href="#xx" x="928.3" y="334.3"/><use href="#dm" x="928.3" y="354.3"/>
</g>
<g font-size="9" fill="#111">
<text x="938.3" y="278.5" textLength="9" lengthAdjust="spacingAndGlyphs">M1</text>
<text x="938.3" y="297.8" textLength="9" lengthAdjust="spacingAndGlyphs">M2</text>
<text x="938.3" y="317.8" textLength="9" lengthAdjust="spacingAndGlyphs">M3</text>
<text x="938.3" y="337.8" textLength="9" lengthAdjust="spacingAndGlyphs">M4</text>
<text x="938.3" y="357.8" textLength="9" lengthAdjust="spacingAndGlyphs">M5</text>
</g>
</svg>
</div></body></html>
